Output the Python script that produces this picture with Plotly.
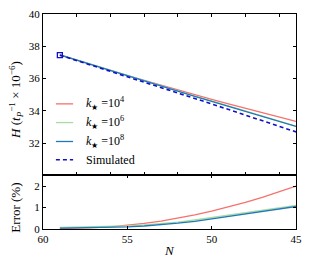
import plotly.graph_objects as go

N = [59, 58, 57, 56, 55, 54, 53, 52, 51, 50, 49, 48, 47, 46, 45]
H_sim = [37.45, 37.12, 36.79, 36.46, 36.13, 35.79, 35.45, 35.11, 34.77, 34.43,
         34.08, 33.74, 33.39, 33.04, 32.70]
err_k4 = [0.02, 0.03, 0.06, 0.10, 0.17, 0.26, 0.37, 0.51, 0.66, 0.83, 1.03, 1.24, 1.48, 1.73, 2.00]
err_k6 = [0.08, 0.09, 0.10, 0.12, 0.15, 0.19, 0.25, 0.32, 0.42, 0.53, 0.64, 0.76, 0.88, 0.99, 1.10]
err_k8 = [0.04, 0.05, 0.06, 0.08, 0.10, 0.14, 0.20, 0.27, 0.36, 0.47, 0.58, 0.70, 0.82, 0.94, 1.05]

labels = ["<i>k</i><sub>★</sub> =10<sup>4</sup>",
          "<i>k</i><sub>★</sub> =10<sup>6</sup>",
          "<i>k</i><sub>★</sub> =10<sup>8</sup>",
          "Simulated"]
colors = ["#f7706c", "#a9dba3", "#2079b8"]
sim_color = "#1010c8"
errs = [err_k4, err_k6, err_k8]

FONT = "Liberation Serif, DejaVu Serif, serif"
fig = go.Figure()

for lab, col, e in zip(labels, colors, errs):
    H = [h * (1 + x / 100) for h, x in zip(H_sim, e)]
    fig.add_trace(go.Scatter(x=N, y=H, mode="lines", name=lab, showlegend=False,
                             line=dict(color=col, width=1.3), xaxis="x", yaxis="y"))
fig.add_trace(go.Scatter(x=N, y=H_sim, mode="lines", name="Simulated", showlegend=False,
                         line=dict(color=sim_color, width=1.6, dash="4px,3px"),
                         xaxis="x", yaxis="y"))
fig.add_trace(go.Scatter(x=N[:1], y=H_sim[:1], mode="markers", showlegend=False,
                         marker=dict(symbol="square-open", size=5,
                                     color=sim_color, line=dict(width=1.3)),
                         xaxis="x", yaxis="y"))

for col, e in zip(colors, errs):
    fig.add_trace(go.Scatter(x=N, y=e, mode="lines", showlegend=False,
                             line=dict(color=col, width=1.3), xaxis="x2", yaxis="y2"))

# custom legend (line samples + labels) in paper coordinates
leg_y = [0.582, 0.495, 0.407, 0.322]
leg_styles = [dict(color=c, width=1.3) for c in colors] + \
             [dict(color=sim_color, width=1.6, dash="4px,3px")]
shapes = []
annotations = []
for yy, st, lab in zip(leg_y, leg_styles, labels):
    shapes.append(dict(type="line", xref="paper", yref="paper",
                       x0=0.051, x1=0.119, y0=yy, y1=yy, line=st))
    annotations.append(dict(xref="paper", yref="paper", x=0.162, y=yy, text=lab,
                            showarrow=False, xanchor="left", yanchor="middle",
                            font=dict(family=FONT, size=12, color="black")))

# axis titles as annotations for exact placement
title_font = dict(family=FONT, size=13, color="black")
annotations.append(dict(xref="paper", yref="paper", x=-0.107, y=0.60, textangle=-90,
                        text="<i>H</i> (<i>t</i><sub><i>P</i></sub><sup>−1</sup> × 10<sup>−6</sup>)",
                        showarrow=False, xanchor="center", yanchor="middle", font=title_font))
annotations.append(dict(xref="paper", yref="paper", x=-0.107, y=0.099, textangle=-90,
                        text="Error (%)", showarrow=False, xanchor="center",
                        yanchor="middle", font=title_font))
annotations.append(dict(xref="paper", yref="paper", x=0.5, y=-0.10, text="<i>N</i>",
                        showarrow=False, xanchor="center", yanchor="middle", font=title_font))

axcommon = dict(showline=True, linecolor="black", linewidth=1, mirror="ticks",
                ticks="inside", ticklen=3, tickcolor="black", showgrid=False,
                zeroline=False, automargin=False,
                tickfont=dict(family=FONT, size=11, color="black"))

split = 0.249
fig.update_layout(
    template="none",
    width=310, height=267,
    margin=dict(l=43, r=14, t=14, b=38),
    paper_bgcolor="white", plot_bgcolor="white",
    font=dict(family=FONT, size=11, color="black"),
    hovermode=False,
    xaxis=dict(domain=[0, 1], range=[60, 45], anchor="y", tickvals=[60, 58, 56, 54, 52, 50, 48, 46],
               showticklabels=False, **axcommon),
    yaxis=dict(domain=[split, 1], range=[30, 40], anchor="x", tickvals=[32, 34, 36, 38, 40],
               **axcommon),
    xaxis2=dict(domain=[0, 1], range=[60, 45], anchor="y2", tickvals=[60, 55, 50, 45],
                **axcommon),
    yaxis2=dict(domain=[0, split], range=[0, 2.5], anchor="x2", tickvals=[0, 1, 2],
                **axcommon),
    shapes=shapes,
    annotations=annotations,
    showlegend=False,
)

fig.write_html("out.html", config={"displayModeBar": False, "staticPlot": True},
               post_script="document.body.style.margin='0';")
